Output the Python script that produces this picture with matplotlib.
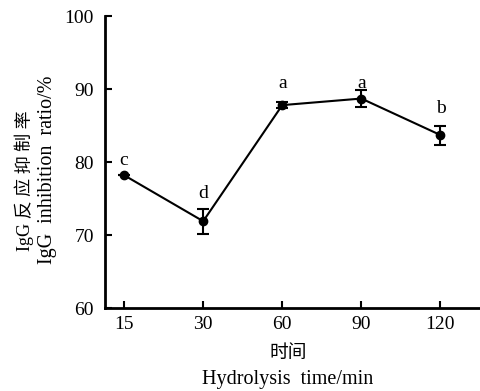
import matplotlib.pyplot as plt
import numpy as np

plt.rcParams['font.family'] = ['Liberation Serif', 'Noto Sans CJK SC']
plt.rcParams['mathtext.fontset'] = 'stix'

times = ['15', '30', '60', '90', '120']
inhibition = [78.2, 71.9, 87.8, 88.7, 83.7]
err = [0.0, 1.7, 0.4, 1.2, 1.3]
letters = ['c', 'd', 'a', 'a', 'b']
letter_y = [79.6, 75.1, 90.1, 90.1, 86.7]

fig = plt.figure(figsize=(4.8, 3.91), dpi=100)
ax = fig.add_axes([0.219, 0.212, 0.781, 0.747])

x = np.arange(len(times))
ax.errorbar(x, inhibition, yerr=err, color='black', lw=1.5, marker='o',
            markersize=6, capsize=4, capthick=1.5, elinewidth=1.5)
for xi, t, yi in zip(x, letters, letter_y):
    ax.text(xi, yi, t, ha='center', va='baseline', fontsize=14)

ax.set_xlim(-0.24, 4.5)
ax.set_ylim(60, 100)
ax.set_xticks(x)
ax.set_xticklabels(times)
ax.set_yticks([60, 70, 80, 90, 100])
ax.tick_params(direction='in', length=5, width=1.5, labelsize=14)
ax.tick_params(axis='x', pad=6)
ax.tick_params(axis='y', pad=8)
for s in ['top', 'right']:
    ax.spines[s].set_visible(False)
for s in ['left', 'bottom']:
    ax.spines[s].set_linewidth(2)

fig.text(0.6, 0.097, '时间', ha='center', va='center', fontsize=13.5)
fig.text(0.6, 0.03, 'Hydrolysis  time/min', ha='center', va='center', fontsize=14.5)
fig.text(0.05, 0.537, 'IgG 反 应 抑 制 率', rotation=90, ha='center', va='center', fontsize=13)
fig.text(0.1, 0.565, 'IgG  inhibition  ratio/%', rotation=90, ha='center', va='center', fontsize=14.5)

fig.savefig('out.png', dpi=100)
